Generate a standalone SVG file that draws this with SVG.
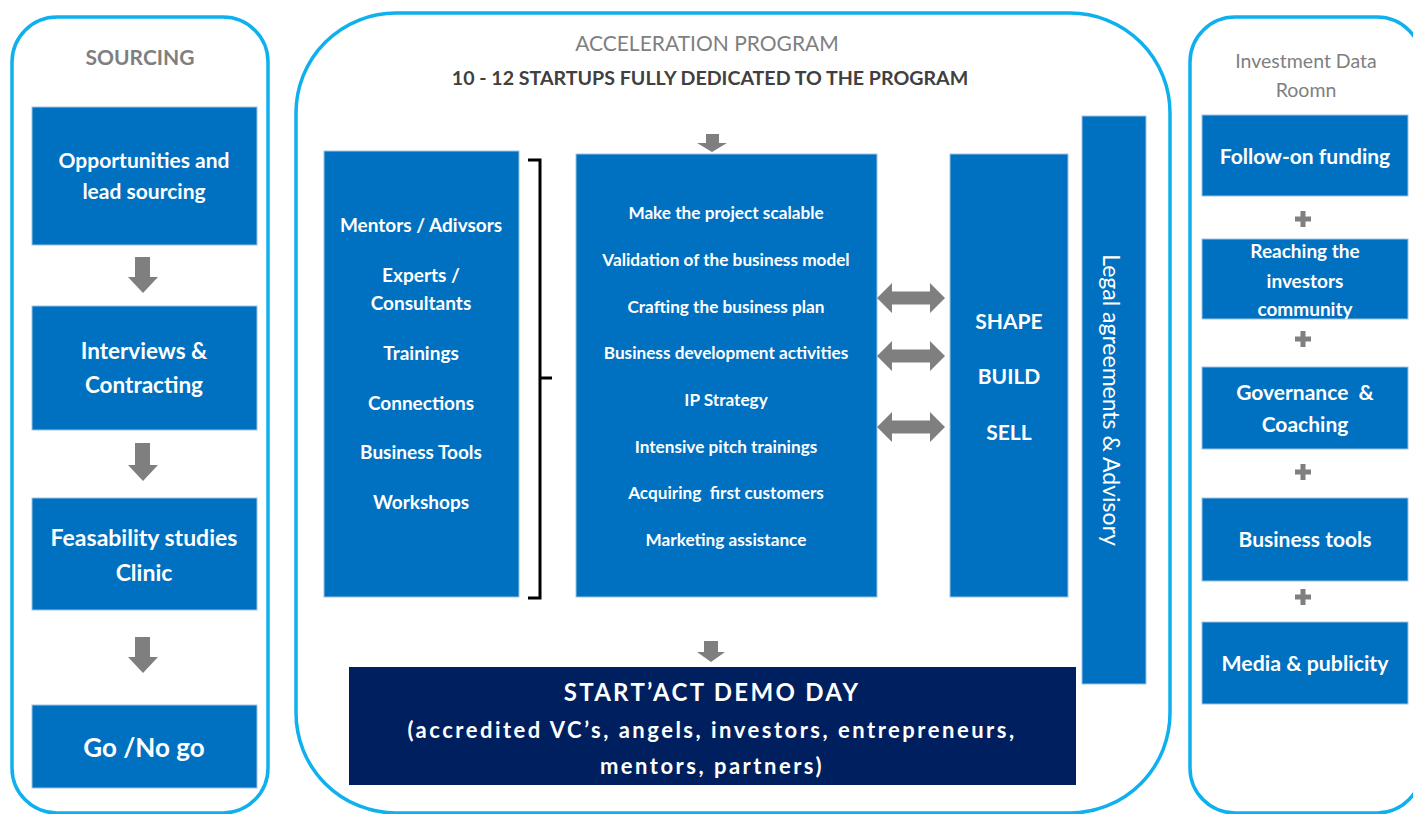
<svg xmlns="http://www.w3.org/2000/svg" width="1413" height="814" viewBox="0 0 1413 814">
<style>
.cont{fill:#fff;stroke:#0FB0EE;stroke-width:3.5}
.box{fill:#0070C0;stroke:#9DC3E6;stroke-width:1}
.navy{fill:#001F5E}
.t{font-family:Lato,"Liberation Sans",sans-serif;font-weight:bold;fill:#fff;text-anchor:middle}
.h{font-family:Lato,"Liberation Sans",sans-serif;font-weight:bold;fill:#7F7F7F;text-anchor:middle}
.arr{fill:#7F7F7F}
</style>
<rect width="1413" height="814" fill="#fff"/>
<g id="sourcing">
<rect class="cont" x="12" y="17" width="256" height="796" rx="45"/>
<text class="h" x="140" y="65" font-size="21">SOURCING</text>
</g>
<g id="acceleration">
<rect class="cont" x="296" y="13" width="874" height="800" rx="100"/>
<text class="h" x="707" y="51" font-size="21" style="font-weight:normal">ACCELERATION PROGRAM</text>
<text class="h" x="710" y="85" font-size="19.6" style="fill:#404040">10 - 12 STARTUPS FULLY DEDICATED TO THE PROGRAM</text>
</g>
<g id="investment">
<rect class="cont" x="1190" y="17" width="232" height="796" rx="45"/>
<text class="h" x="1306" y="68" font-size="19.5" style="font-weight:normal">Investment Data</text>
<text class="h" x="1306" y="97" font-size="19.5" style="font-weight:normal">Roomn</text>
</g>
<g id="s1"><rect class="box" x="32" y="107" width="225" height="138"/>
<text class="t" x="144" y="168" font-size="21">Opportunities and</text>
<text class="t" x="144" y="199" font-size="21">lead sourcing</text></g>
<g id="s2"><rect class="box" x="32" y="306" width="225" height="124"/>
<text class="t" x="144" y="359" font-size="22.5">Interviews &amp;</text>
<text class="t" x="144" y="393" font-size="22.5">Contracting</text></g>
<g id="s3"><rect class="box" x="32" y="498" width="225" height="112"/>
<text class="t" x="144" y="546" font-size="23">Feasability studies</text>
<text class="t" x="144" y="581" font-size="23">Clinic</text></g>
<g id="s4"><rect class="box" x="32" y="705" width="225" height="83"/>
<text class="t" x="144" y="757" font-size="26">Go /No go</text></g>
<g id="mentors"><rect class="box" x="324" y="151" width="195" height="446"/>
<text class="t" x="421" y="232" font-size="19">Mentors / Adivsors</text>
<text class="t" x="421" y="282" font-size="19">Experts /</text>
<text class="t" x="421" y="310" font-size="19">Consultants</text>
<text class="t" x="421" y="360" font-size="19">Trainings</text>
<text class="t" x="421" y="410" font-size="19">Connections</text>
<text class="t" x="421" y="459" font-size="19">Business Tools</text>
<text class="t" x="421" y="509" font-size="19">Workshops</text></g>
<g id="bracket"><path d="M528,160 H540 V598 H528 M540,378 H552" fill="none" stroke="#000" stroke-width="3"/></g>
<g id="activities"><rect class="box" x="576" y="154" width="301" height="443"/>
<text class="t" x="726" y="219" font-size="17.2">Make the project scalable</text>
<text class="t" x="726" y="266" font-size="17.2">Validation of the business model</text>
<text class="t" x="726" y="313" font-size="17.2">Crafting the business plan</text>
<text class="t" x="726" y="359" font-size="17.2">Business development activities</text>
<text class="t" x="726" y="406" font-size="17.2">IP Strategy</text>
<text class="t" x="726" y="453" font-size="17.2">Intensive pitch trainings</text>
<text class="t" x="726" y="499" font-size="17.2" xml:space="preserve">Acquiring  first customers</text>
<text class="t" x="726" y="546" font-size="17.2">Marketing assistance</text></g>
<g id="shape"><rect class="box" x="950" y="154" width="118" height="443"/>
<text class="t" x="1009" y="329" font-size="21">SHAPE</text>
<text class="t" x="1009" y="384" font-size="21">BUILD</text>
<text class="t" x="1009" y="440" font-size="21">SELL</text></g>
<g id="legal"><rect class="box" x="1082" y="116" width="64" height="568"/>
<text class="t" transform="translate(1111,400) rotate(90)" x="0" y="8" font-size="23" style="font-weight:normal">Legal agreements &amp; Advisory</text></g>
<g id="demoday"><rect class="navy" x="349" y="667" width="727" height="118"/>
<text class="t" x="712" y="701" font-size="24" letter-spacing="2.3">START’ACT DEMO DAY</text>
<text class="t" x="712" y="738" font-size="22" letter-spacing="2.5">(accredited VC’s, angels, investors, entrepreneurs,</text>
<text class="t" x="712" y="774" font-size="22" letter-spacing="2.5">mentors, partners)</text></g>
<g id="r1"><rect class="box" x="1202" y="115" width="206" height="81"/>
<text class="t" x="1305" y="164" font-size="21">Follow-on funding</text></g>
<g id="r2"><rect class="box" x="1202" y="239" width="206" height="80"/>
<text class="t" x="1305" y="258" font-size="19">Reaching the</text>
<text class="t" x="1305" y="288" font-size="19">investors</text>
<text class="t" x="1305" y="316" font-size="19">community</text></g>
<g id="r3"><rect class="box" x="1202" y="367" width="206" height="82"/>
<text class="t" x="1305" y="400" font-size="21" xml:space="preserve">Governance  &amp;</text>
<text class="t" x="1305" y="432" font-size="21">Coaching</text></g>
<g id="r4"><rect class="box" x="1202" y="498" width="206" height="83"/>
<text class="t" x="1305" y="547" font-size="21">Business tools</text></g>
<g id="r5"><rect class="box" x="1202" y="622" width="206" height="82"/>
<text class="t" x="1305" y="671" font-size="21.3">Media &amp; publicity</text></g>
<g id="connectors" class="arr">
<polygon points="135,257 150,257 150,277 158,277 143,293 128,277 135,277"/>
<polygon points="135,443 150,443 150,465 158,465 143,481 128,465 135,465"/>
<polygon points="135,637 150,637 150,657 158,657 143,673 128,657 135,657"/>
<polygon points="706,134 719,134 719,143 727,143 712,152 697,143 706,143"/>
<polygon points="704,641 718,641 718,652 725,652 711,662 697,652 704,652"/>
<polygon points="877,298 892,283 892,291.5 930,291.5 930,283 945,298 930,313 930,304.5 892,304.5 892,313"/>
<polygon points="877,356 892,341 892,349.5 930,349.5 930,341 945,356 930,371 930,362.5 892,362.5 892,371"/>
<polygon points="877,427 892,412 892,420.5 930,420.5 930,412 945,427 930,442 930,433.5 892,433.5 892,442"/>
<path d="M1295,219 H1311 M1303,211 V227 M1295,339 H1311 M1303,331 V347 M1295,472 H1311 M1303,464 V480 M1295,597 H1311 M1303,589 V605" stroke="#7F7F7F" stroke-width="5" fill="none"/>
</g>
</svg>
